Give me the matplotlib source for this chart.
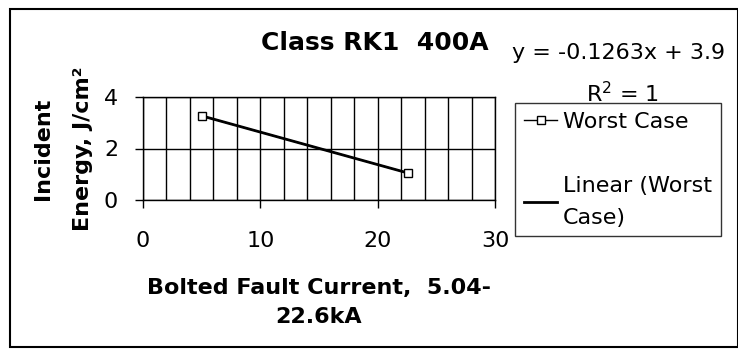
import numpy as np
import matplotlib.pyplot as plt
from matplotlib.patches import Rectangle
from matplotlib.ticker import MultipleLocator

# bolted fault current (kA) vs incident energy (J/cm^2)
current = [5.04, 22.6]
energy = [3.263, 1.046]
slope = -0.1263
intercept = 3.9

W, H = 738, 349
fig = plt.figure(figsize=(W / 100, H / 100), dpi=100)

def px(x, y):
    return x / W, 1 - y / H

# outer chart frame
fig.patches.append(Rectangle(px(10, 347), (W - 10) / W, (347 - 9) / H,
                             transform=fig.transFigure, fill=False,
                             edgecolor='black', linewidth=1.5))

x0, y0 = px(143, 200)
x1, y1 = px(495, 97)
ax = fig.add_axes([x0, y0, x1 - x0, y1 - y0])

ax.plot(current, energy, color='black', lw=1, marker='s', markersize=6,
        markerfacecolor='white', markeredgecolor='black', markeredgewidth=1,
        label='Worst Case', zorder=4)
xs = np.array([min(current), max(current)])
ax.plot(xs, slope * xs + intercept, color='black', lw=2,
        label='Linear (Worst\nCase)', zorder=3)

ax.set_xlim(0, 30)
ax.set_ylim(0, 4)
ax.xaxis.set_major_locator(MultipleLocator(10))
ax.xaxis.set_minor_locator(MultipleLocator(2))
ax.yaxis.set_major_locator(MultipleLocator(2))
ax.grid(True, which='both', axis='x', color='black', lw=1)
ax.grid(True, which='major', axis='y', color='black', lw=1)
ax.tick_params(axis='both', which='major', direction='out', length=6,
               width=1, labelsize=16)
ax.tick_params(axis='x', pad=16)
ax.tick_params(axis='y', pad=12)
ax.tick_params(axis='x', which='minor', length=0)
for s in ax.spines.values():
    s.set_linewidth(1)

ax.set_xlabel('Bolted Fault Current,  5.04-\n22.6kA', fontsize=16,
              fontweight='bold', labelpad=20, linespacing=1.55)
ax.set_ylabel('Incident\nEnergy, J/cm²', fontsize=16, fontweight='bold',
              labelpad=8, linespacing=2.25)

fig.text(*px(375, 43), 'Class RK1  400A', fontsize=18, fontweight='bold',
         ha='center', va='center')
fig.text(*px(512, 53), 'y = -0.1263x + 3.9', fontsize=16, ha='left', va='center')
fig.text(*px(623, 94), 'R$^2$ = 1', fontsize=16, ha='center', va='center')

leg = ax.legend(loc='upper left', bbox_to_anchor=px(515, 103),
                bbox_transform=fig.transFigure, fontsize=16, frameon=True,
                fancybox=False, edgecolor='black', handlelength=1.5,
                handletextpad=0.25, labelspacing=2.0, borderpad=0.4,
                borderaxespad=0)
leg.get_frame().set_linewidth(1)
for t in leg.get_texts():
    t.set_linespacing(1.7)

fig.savefig('out.png', dpi=100)
